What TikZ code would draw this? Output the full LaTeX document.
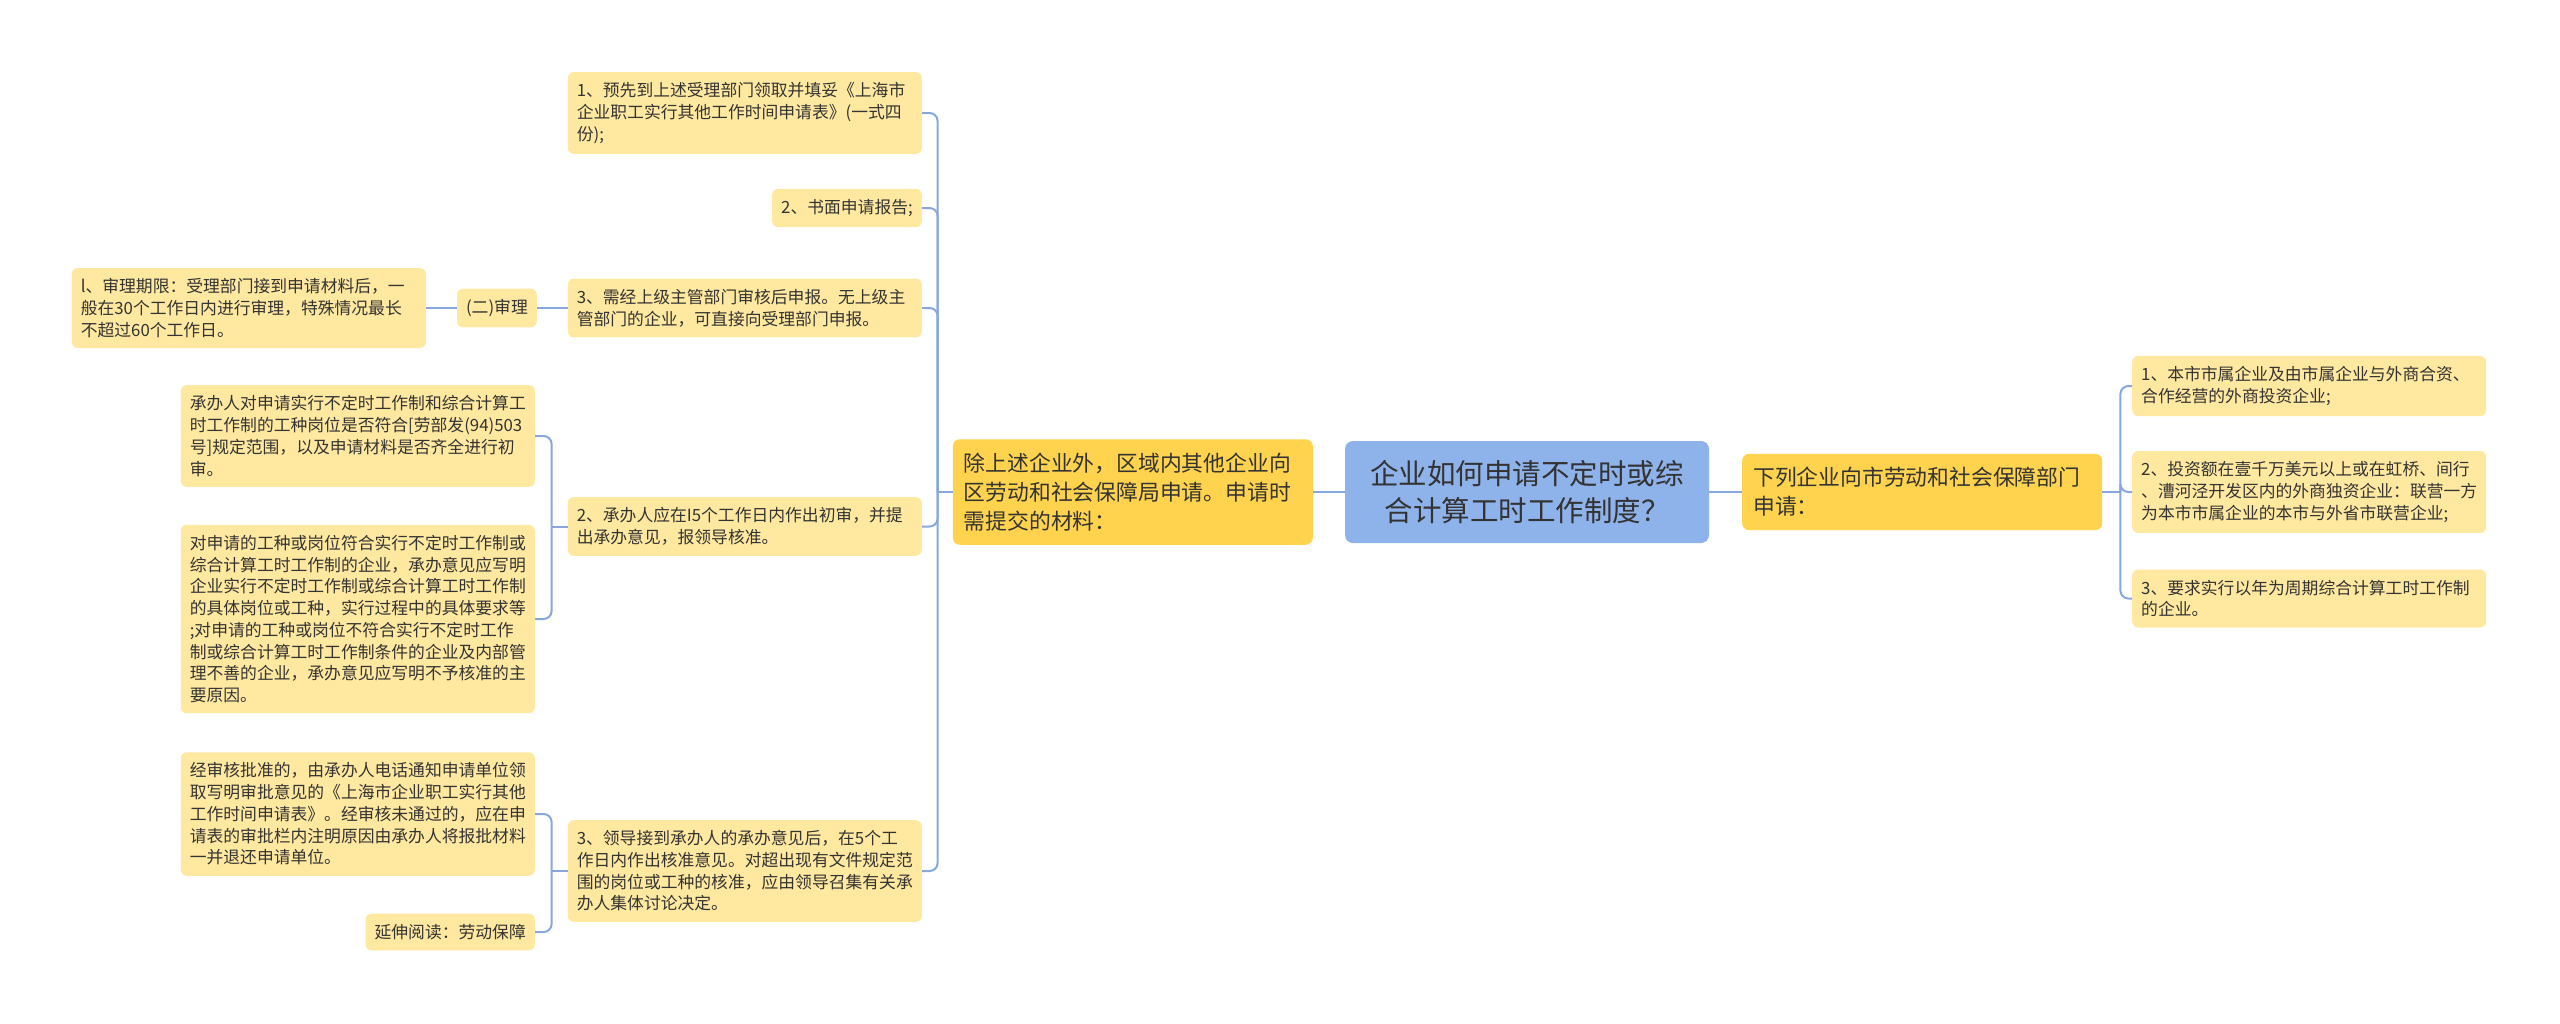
\documentclass[tikz,border=0pt]{standalone}
\usepackage{fontspec}
\setmainfont{Noto Sans CJK SC}
\definecolor{leafc}{HTML}{FFE8A0}
\definecolor{mainc}{HTML}{FFD34D}
\definecolor{rootc}{HTML}{8EB2EA}
\definecolor{linec}{HTML}{86A8DD}
\definecolor{txt}{HTML}{333333}
\begin{document}
\begin{tikzpicture}[x=1pt,y=-1pt,
  leaf/.style={fill=leafc,rounded corners=6pt,inner xsep=9pt,inner ysep=10.5pt,
    font=\fontsize{16.8}{21.7}\selectfont,text=txt,align=left},
  wide/.style={leaf,text width=336pt},
  main/.style={fill=mainc,rounded corners=7pt,inner xsep=11pt,inner ysep=13.6pt,
    font=\fontsize{21.8}{29}\selectfont,text=txt,text width=338pt,align=left},
  root/.style={fill=rootc,rounded corners=8pt,inner ysep=19pt,minimum width=364pt,
    font=\fontsize{28.5}{37.5}\selectfont,text=txt,align=center},
  link/.style={draw=linec,line width=2pt,rounded corners=8pt}]
  \fill[white] (0,0) rectangle (2560,1023);
  % centre and the two main branches
  \node[root] (root) at (1527,492) {企业如何申请不定时或综\\合计算工时工作制度？};
  \node[main,anchor=east] (lm) at (1313,492) {除上述企业外，区域内其他企业向\\区劳动和社会保障局申请。申请时\\需提交的材料：};
  \node[main,anchor=west] (rm) at (1742,492) {下列企业向市劳动和社会保障部门\\申请：};
  % right side
  \node[wide,anchor=west] (r1) at (2132,386) {1、本市市属企业及由市属企业与外商合资、\\合作经营的外商投资企业;};
  \node[wide,anchor=west] (r2) at (2132,492) {2、投资额在壹千万美元以上或在虹桥、间行\\、漕河泾开发区内的外商独资企业：联营一方\\为本市市属企业的本市与外省市联营企业;};
  \node[wide,anchor=west] (r3) at (2132,598.5) {3、要求实行以年为周期综合计算工时工作制\\的企业。};
  % left side
  \node[wide,anchor=east] (l1) at (922,113) {1、预先到上述受理部门领取并填妥《上海市\\企业职工实行其他工作时间申请表》(一式四\\份);};
  \node[leaf,anchor=east] (l2) at (922,208) {2、书面申请报告;};
  \node[wide,anchor=east] (l3) at (922,308) {3、需经上级主管部门审核后申报。无上级主\\管部门的企业，可直接向受理部门申报。};
  \node[wide,anchor=east] (l4) at (922,526.5) {2、承办人应在I5个工作日内作出初审，并提\\出承办意见，报领导核准。};
  \node[wide,anchor=east] (l5) at (922,871) {3、领导接到承办人的承办意见后，在5个工\\作日内作出核准意见。对超出现有文件规定范\\围的岗位或工种的核准，应由领导召集有关承\\办人集体讨论决定。};
  \node[leaf,anchor=east] (sh) at (537,308) {(二)审理};
  \node[wide,anchor=east] (shc) at (426,308) {l、审理期限：受理部门接到申请材料后，一\\般在30个工作日内进行审理，特殊情况最长\\不超过60个工作日。};
  \node[wide,anchor=east] (a) at (535,436) {承办人对申请实行不定时工作制和综合计算工\\时工作制的工种岗位是否符合[劳部发(94)503\\号]规定范围，以及申请材料是否齐全进行初\\审。};
  \node[wide,anchor=east] (b) at (535,619) {对申请的工种或岗位符合实行不定时工作制或\\综合计算工时工作制的企业，承办意见应写明\\企业实行不定时工作制或综合计算工时工作制\\的具体岗位或工种，实行过程中的具体要求等\\;对申请的工种或岗位不符合实行不定时工作\\制或综合计算工时工作制条件的企业及内部管\\理不善的企业，承办意见应写明不予核准的主\\要原因。};
  \node[wide,anchor=east] (c) at (535,814) {经审核批准的，由承办人电话通知申请单位领\\取写明审批意见的《上海市企业职工实行其他\\工作时间申请表》。经审核未通过的，应在申\\请表的审批栏内注明原因由承办人将报批材料\\一并退还申请单位。};
  \node[leaf,anchor=east] (d) at (535,932) {延伸阅读：劳动保障};
  % connectors
  \coordinate (lj) at ([xshift=-15pt]lm.west);
  \coordinate (rj) at ([xshift=18pt]rm.east);
  \coordinate (j4) at ([xshift=-16pt]l4.west);
  \coordinate (j5) at ([xshift=-16pt]l5.west);
  \draw[link] (root.west) -- (lm.east);
  \draw[link] (root.east) -- (rm.west);
  \draw[link] (lm.west) -- (lj);
  \foreach \n in {l1,l2,l3,l4,l5} \draw[link] (lj) |- (\n.east);
  \draw[link] (rm.east) -- (rj);
  \foreach \n in {r1,r2,r3} \draw[link] (rj) |- (\n.west);
  \draw[link] (l3.west) -- (sh.east);
  \draw[link] (sh.west) -- (shc.east);
  \draw[link] (l4.west) -- (j4);
  \foreach \n in {a,b} \draw[link] (j4) |- (\n.east);
  \draw[link] (l5.west) -- (j5);
  \foreach \n in {c,d} \draw[link] (j5) |- (\n.east);
\end{tikzpicture}
\end{document}
